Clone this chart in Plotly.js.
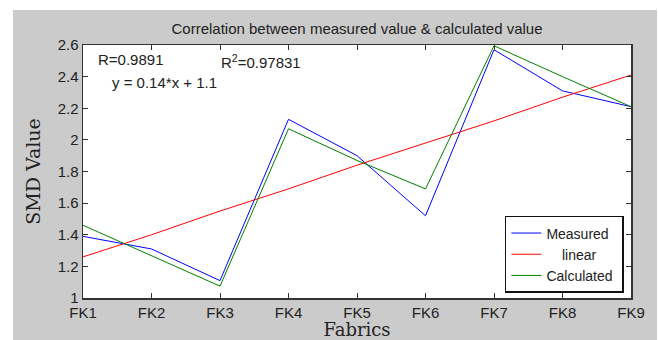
<!DOCTYPE html>
<html>
<head>
<meta charset="utf-8">
<script src="https://cdn.plot.ly/plotly-3.0.1.min.js"></script>
<style>
html,body{margin:0;padding:0;background:#fff;width:658px;height:340px;overflow:hidden;}
#chart{position:absolute;left:13px;top:10px;width:644px;height:330px;}
</style>
</head>
<body>
<div id="chart"></div>
<script>
const categories = ["FK1","FK2","FK3","FK4","FK5","FK6","FK7","FK8","FK9"];
const measured   = [1.39, 1.31, 1.11, 2.13, 1.90, 1.52, 2.57, 2.31, 2.21];
const linear     = [1.26, 1.40, 1.55, 1.69, 1.84, 1.98, 2.12, 2.27, 2.41];
const calculated = [1.46, 1.27, 1.075, 2.07, 1.87, 1.69, 2.595, 2.40, 2.21];
const yTicks = [1, 1.2, 1.4, 1.6, 1.8, 2, 2.2, 2.4, 2.6];
const yTickText = ["1","1.2","1.4","1.6","1.8","2","2.2","2.4","2.6"];

const xIdx = categories.map((c,i)=>i);
const sans = "Arial, Liberation Sans, sans-serif";
const serif = "DejaVu Serif, serif";

const traces = [
  {x: xIdx, y: measured, name: "Measured", mode: "lines", line: {color: "#0000ff", width: 1}},
  {x: xIdx, y: linear, name: "    linear", mode: "lines", line: {color: "#ff0000", width: 1}},
  {x: xIdx, y: calculated, name: "Calculated ", mode: "lines", line: {color: "#008000", width: 1}}
];

const axisCommon = {
  showline: true, linecolor: "#333", linewidth: 1.5, mirror: "ticks",
  ticks: "inside", ticklen: 5, tickcolor: "#333", showgrid: false, zeroline: false,
  tickfont: {family: sans, size: 15, color: "#222"}
};

const layout = {
  width: 644, height: 330,
  paper_bgcolor: "#cbcbcb", plot_bgcolor: "#ffffff",
  margin: {l: 70, r: 26, t: 35, b: 42},
  showlegend: true,
  title: {text: "Correlation between measured value & calculated value",
    font: {family: sans, size: 15, color: "#222"},
    x: 0.5, xref: "paper", xanchor: "center", y: 1, yref: "paper", yanchor: "bottom", pad: {b: 11}},
  xaxis: Object.assign({}, axisCommon, {
    range: [0, 8], tickmode: "array", tickvals: xIdx, ticktext: categories,
    title: {text: "Fabrics", standoff: 5, font: {family: serif, size: 18, color: "#222"}}
  }),
  yaxis: Object.assign({}, axisCommon, {
    range: [1, 2.6], tickmode: "array", tickvals: yTicks, ticktext: yTickText,
    title: {text: "SMD Value", standoff: 12, font: {family: serif, size: 19, color: "#222"}}
  }),
  legend: {
    x: 0.987, xanchor: "right", y: 0.02, yanchor: "bottom",
    bgcolor: "#ffffff", bordercolor: "#111", borderwidth: 1.5,
    font: {family: sans, size: 14, color: "#222"},
    tracegroupgap: 0, itemwidth: 30
  },
  annotations: [
    {xref: "paper", yref: "paper", x: 0.024, y: 0.941, xanchor: "left", yanchor: "middle", showarrow: false,
     text: "R=0.9891", font: {family: sans, size: 15, color: "#222"}},
    {xref: "paper", yref: "paper", x: 0.249, y: 0.935, xanchor: "left", yanchor: "middle", showarrow: false,
     text: "R<sup>2</sup>=0.97831", font: {family: sans, size: 15, color: "#222"}},
    {xref: "paper", yref: "paper", x: 0.049, y: 0.850, xanchor: "left", yanchor: "middle", showarrow: false,
     text: "y = 0.14*x + 1.1", font: {family: sans, size: 15, color: "#222"}}
  ]
};

Plotly.newPlot("chart", traces, layout, {displayModeBar: false, staticPlot: true});
</script>
</body>
</html>
